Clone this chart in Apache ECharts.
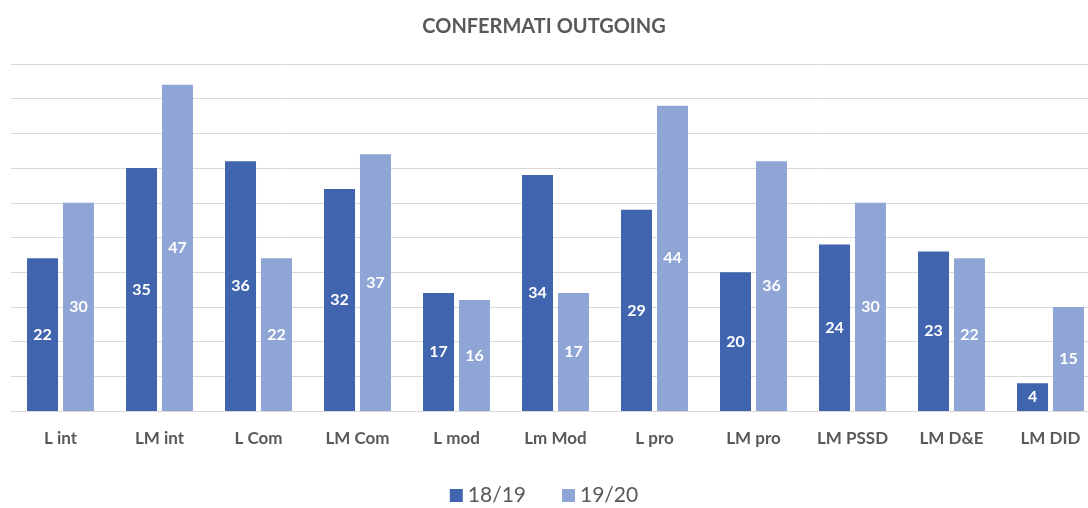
<!DOCTYPE html>
<html>
<head>
<meta charset="utf-8">
<script src="https://cdn.jsdelivr.net/npm/echarts@6/dist/echarts.min.js"></script>
<style>
  html, body { margin: 0; padding: 0; background: #fff; }
  #chart { width: 1088px; height: 508px; }
</style>
</head>
<body>
<div id="chart"></div>
<script>
// categorie e valori
var categories = ["L int", "LM int", "L Com", "LM Com", "L mod", "Lm Mod", "L pro", "LM pro", "LM PSSD", "LM D&E", "LM DID"];
var values1819 = [22, 35, 36, 32, 17, 34, 29, 20, 24, 23, 4];
var values1920 = [30, 47, 22, 37, 16, 17, 44, 36, 30, 22, 15];
var seriesNames = ["18/19", "19/20"];

var chart = echarts.init(document.getElementById("chart"));
var labelStyle = {
  show: true,
  position: "inside",
  color: "#ffffff",
  fontWeight: "bold",
  fontSize: 16,
  fontFamily: "Lato"
};
chart.setOption({
  animation: false,
  color: ["#4064ae", "#8fa5d6"],
  title: {
    text: "CONFERMATI OUTGOING",
    left: "center",
    top: 12,
    textStyle: { color: "#595959", fontSize: 20, fontWeight: "bold", fontFamily: "Lato" }
  },
  legend: {
    data: seriesNames,
    bottom: -3,
    left: "center",
    itemWidth: 13,
    itemHeight: 13,
    itemGap: 36,
    icon: "rect",
    textStyle: { color: "#595959", fontSize: 21, fontFamily: "Lato" }
  },
  grid: {
    left: 11,
    right: -12,
    top: 64,
    bottom: 97,
    outerBoundsMode: "none",
    containLabel: false
  },
  xAxis: {
    type: "category",
    data: categories,
    axisTick: { show: false },
    axisLine: { lineStyle: { color: "#d9d9d9" } },
    axisLabel: { color: "#595959", fontSize: 17, fontWeight: "bold", fontFamily: "Lato", margin: 19 }
  },
  yAxis: {
    type: "value",
    min: 0,
    max: 50,
    interval: 5,
    axisLabel: { show: false },
    axisLine: { show: false },
    axisTick: { show: false },
    splitLine: { lineStyle: { color: "#d9d9d9" } }
  },
  series: [
    {
      name: seriesNames[0],
      type: "bar",
      barWidth: 31,
      barGap: "16%",
      data: values1819,
      label: labelStyle
    },
    {
      name: seriesNames[1],
      type: "bar",
      barWidth: 31,
      data: values1920,
      label: labelStyle
    }
  ]
});
</script>
</body>
</html>
